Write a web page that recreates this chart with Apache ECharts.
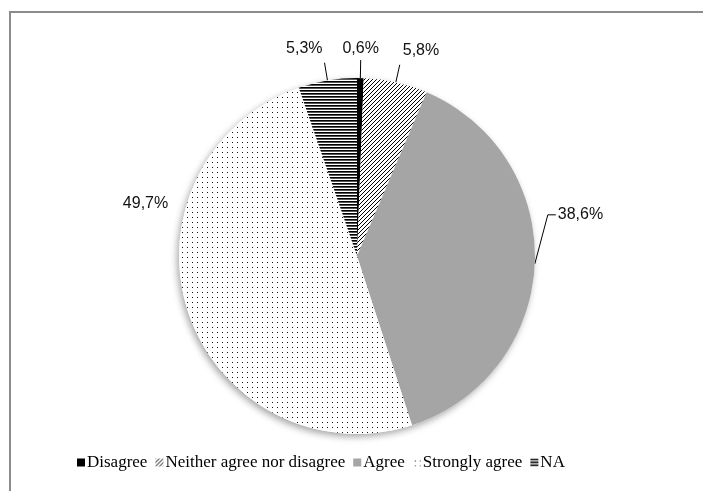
<!DOCTYPE html>
<html>
<head>
<meta charset="utf-8">
<script src="https://cdn.jsdelivr.net/npm/echarts@6/dist/echarts.min.js"></script>
<style>
  html, body { margin: 0; padding: 0; background: #fff; }
  #chart { width: 703px; height: 491px; }
</style>
</head>
<body>
<div id="chart"></div>
<script>
// data (percent)
const categories = ['Disagree', 'Neither agree nor disagree', 'Agree', 'Strongly agree', 'NA'];
const shares = [0.6, 5.8, 38.6, 49.7, 5.3];

// fill patterns, drawn on small tiles
function makePattern(w, h, draw) {
  const c = document.createElement('canvas');
  c.width = w;
  c.height = h;
  const ctx = c.getContext('2d');
  ctx.fillStyle = '#fff';
  ctx.fillRect(0, 0, w, h);
  ctx.fillStyle = '#000';
  draw(ctx);
  return { image: c, repeat: 'repeat' };
}

const hatch = makePattern(4, 4, ctx => {
  for (let i = 0; i < 4; i++) ctx.fillRect(i, 3 - i, 1, 1);
});
const dots = makePattern(5, 5, ctx => {
  ctx.fillStyle = '#111';
  ctx.fillRect(2, 2, 1, 1);
});
const stripes = makePattern(3, 3, ctx => {
  ctx.fillRect(0, 0, 3, 1);
  ctx.fillStyle = '#555';
  ctx.fillRect(0, 1, 3, 1);
});

const fills = ['#000', hatch, '#a5a5a5', dots, stripes];

const chart = echarts.init(document.getElementById('chart'), null, { renderer: 'canvas' });

const option = {
  animation: false,
  backgroundColor: '#fff',
  graphic: [{
    type: 'rect',
    shape: { x: 10, y: 12, width: 800, height: 600 },
    style: { fill: 'none', stroke: '#8c8c8c', lineWidth: 2 },
    silent: true
  }],
  legend: {
    data: categories,
    left: 72,
    top: 449,
    icon: 'rect',
    itemWidth: 8,
    itemHeight: 8,
    itemGap: 8,
    textStyle: { fontFamily: 'Liberation Serif', fontSize: 17, color: '#000', padding: [0, 0, 0, -3] }
  },
  series: [
    {
      // soft shadow behind the pie
      type: 'pie',
      silent: true,
      center: [357, 256],
      radius: 178,
      z: 1,
      label: { show: false },
      labelLine: { show: false },
      itemStyle: {
        color: '#fff',
        shadowColor: 'rgba(0,0,0,0.35)',
        shadowBlur: 7,
        shadowOffsetX: -2,
        shadowOffsetY: 3
      },
      data: [{ value: 1, name: '' }]
    },
    {
      type: 'pie',
      center: [357, 256],
      radius: 178,
      z: 2,
      startAngle: 90,
      clockwise: true,
      avoidLabelOverlap: false,
      itemStyle: { borderWidth: 0 },
      label: {
        show: true,
        position: 'outside',
        fontFamily: 'Liberation Sans',
        fontSize: 16,
        color: '#111',
        formatter: p => p.value.toFixed(1).replace('.', ',') + '%'
      },
      labelLine: {
        show: true,
        length: 18,
        length2: 0,
        lineStyle: { color: '#000', width: 1 }
      },
      labelLayout: function (params) {
        const pts = params.labelLinePoints;
        const i = params.dataIndex;
        if (!pts) return {};
        const a = pts[0], b = pts[1];
        if (i === 0) {
          return { x: b[0], y: b[1] - 3, align: 'center', verticalAlign: 'bottom', labelLinePoints: [a, b, b] };
        }
        if (i === 1) {
          return { x: b[0] + 3, y: b[1] - 6, align: 'left', verticalAlign: 'bottom', labelLinePoints: [a, b, b] };
        }
        if (i === 4) {
          return { x: b[0] - 2, y: b[1] - 6, align: 'right', verticalAlign: 'bottom', labelLinePoints: [a, b, b] };
        }
        if (i === 2) {
          const bend = [a[0] + 13, a[1] - 49];
          const end = [bend[0] + 8, bend[1]];
          return { x: end[0] + 2, y: end[1], align: 'left', verticalAlign: 'middle', labelLinePoints: [a, bend, end] };
        }
        // Strongly agree: label sits up-left with no leader
        return { x: a[0] - 20, y: a[1] - 109, align: 'right', verticalAlign: 'middle', labelLinePoints: [a, a, a] };
      },
      data: categories.map((name, i) => ({
        name: name,
        value: shares[i],
        itemStyle: { color: fills[i] }
      }))
    }
  ]
};

chart.setOption(option);
</script>
</body>
</html>
